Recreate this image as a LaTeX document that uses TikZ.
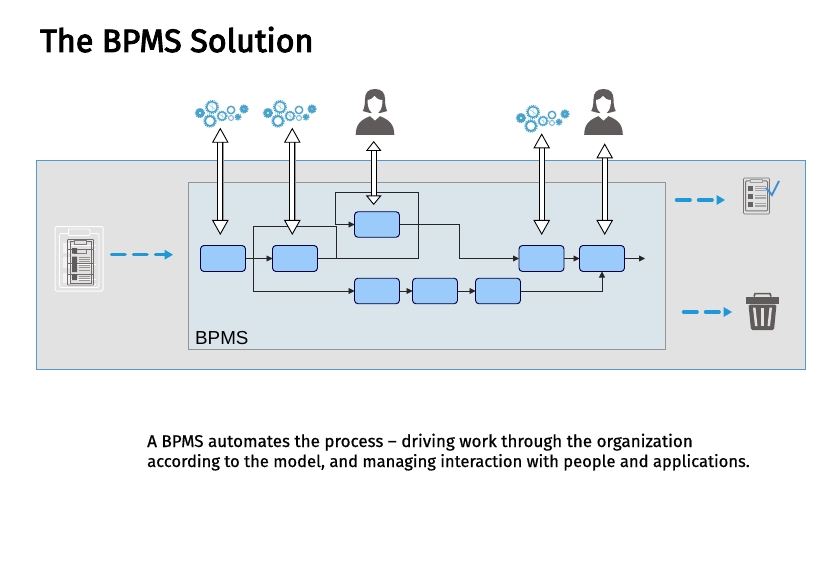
\documentclass[tikz,border=0pt]{standalone}
\usepackage{fontspec}
\setmainfont{Fira Sans}
\newfontfamily\arialf{Liberation Sans}
\newfontfamily\titlef[FakeBold=3]{Fira Sans}
\newfontfamily\bodyf[FakeBold=.6]{Fira Sans}
\usetikzlibrary{arrows.meta,calc}
\definecolor{panel}{HTML}{E2E2E2}
\definecolor{inner}{HTML}{DAE4EB}
\definecolor{task}{HTML}{9BCBFB}
\definecolor{flow}{HTML}{1E98D8}
\definecolor{gearc}{HTML}{4AA3CC}
\definecolor{icon}{HTML}{5F5B5B}
\definecolor{edge}{HTML}{4C9BD2}
\definecolor{tick}{HTML}{3D8FDC}
\tikzset{
  taskbox/.style={draw=black!75!blue,line width=.9pt,fill=task,rounded corners=3.5pt,minimum width=45pt,minimum height=26pt,inner sep=0pt,outer sep=0pt},
  conn/.style={draw=black!85,line width=.85pt,-{Triangle[length=6pt,width=6pt]}},
  plainconn/.style={draw=black!85,line width=.85pt},
  dasharrow/.style={draw=flow,line width=3.4pt,line cap=round,dash pattern=on 13.6pt off 8.4pt,-{Triangle[length=8.5pt,width=10pt,fill=flow,line width=0pt]}},
  dbl/.style={line width=1pt,draw=black,double=white,double distance=4.2pt,
    {Triangle[length=15pt,width=16.5pt,fill=white,line width=.9pt]}-{Triangle[length=15pt,width=16.5pt,fill=white,line width=.9pt]}},
  dblshadow/.style={line width=.8pt,draw=black!40,double=black!40,double distance=4.2pt},
}
\newcommand{\gearring}[4]{% x y r width
  \draw[gearc,line width=#4pt] (#1,#2) circle[radius=#3];
  \draw[gearc,line width=1.1pt,dash pattern=on 1pt off 1pt] (#1,#2) circle[radius=#3+#4/2+.3];
}
\newcommand{\gearcluster}[2]{%
  \begin{scope}[shift={(#1,#2)}]
    \gearring{0}{0}{2.8}{3.2}
    \gearring{12}{-6}{5.4}{1.5}
    \draw[gearc!60,line width=.5pt] (8,-9)--(16,-3) (12,-11)--(12,-1);
    \gearring{10}{8}{5}{1.8}
    \gearring{22}{3}{4.1}{1.3}
    \draw[gearc!60,line width=.5pt] (19,1)--(25,5) (22,-1)--(22,7);
    \draw[gearc,line width=1.4pt] (31,-3) circle[radius=3.7];
    \draw[gearc!70,line width=1.1pt] (31,5) circle[radius=2.5];
    \gearring{38}{4}{1.6}{2.2}
    \gearring{44}{-4}{2.3}{3}
  \end{scope}}
\newcommand{\person}[2]{%
  \begin{scope}[shift={(#1,#2)}]
    \fill[icon] (0,46) -- (-19.3,46) .. controls (-19.3,36) and (-15,31) .. (-4.5,27) -- (4.5,27) .. controls (15,31) and (19.3,36) .. (19.3,46) -- cycle;
    \fill[white] (-5.5,26.5) -- (0,31.5) -- (5.5,26.5) -- (5.5,24) -- (-5.5,24) -- cycle;
    \fill[icon] (0,0) .. controls (-7,0) and (-10,4) .. (-10,10) .. controls (-10,16) and (-11,20) .. (-12.3,22) .. controls (-9,23.5) and (-7,23) .. (-5,24) -- (5,24) .. controls (7,23) and (9,23.5) .. (12.3,22) .. controls (11,20) and (10,16) .. (10,10) .. controls (10,4) and (7,0) .. (0,0) -- cycle;
    \fill[white] (-7.5,11) .. controls (-4,10.5) and (-2,9) .. (-.5,7) .. controls (1,9.5) and (4,11) .. (7.5,11) .. controls (7.5,20) and (4,25) .. (0,25) .. controls (-4,25) and (-7.5,20) .. (-7.5,11) -- cycle;
  \end{scope}}
\newcommand{\checklist}[2]{%
  \begin{scope}[shift={(#1,#2)}]
    \draw[icon!85,line width=.6pt,rounded corners=1pt,fill=panel] (0,0) rectangle (26,36);
    \draw[icon!85,line width=1pt,rounded corners=1pt] (2,3) rectangle (24,33);
    \draw[icon!60,line width=.6pt,fill=panel] (7,1) rectangle (19,4.5);
    \foreach \yy in {8,16.5,24.5}{
      \fill[icon!95] (4,\yy) rectangle (9.5,\yy+5);
      \draw[icon!55,line width=.8pt] (11.5,\yy+.7) -- (22,\yy+.7) (11.5,\yy+2.5) -- (22,\yy+2.5) (11.5,\yy+4.3) -- (22,\yy+4.3);
    }
  \end{scope}}
\begin{document}
\begin{tikzpicture}[x=1pt,y=-1pt]
\useasboundingbox (0,0) rectangle (836,575);
% panels
\node[draw=edge,line width=.8pt,fill=panel,minimum width=769pt,minimum height=209pt,inner sep=0pt,anchor=north west] (panel) at (36,160) {};
\node[draw=black!42,line width=1pt,fill=inner,minimum width=477pt,minimum height=166.5pt,inner sep=0pt,anchor=north west] (bpms) at (188,182.5) {};
\node[anchor=base west,inner sep=0pt,font=\arialf\fontsize{18.8}{20}\selectfont] (bpmslabel) at (195,344) {BPMS};
% title and text
\node[anchor=base west,inner sep=0pt,font=\titlef\fontsize{32.3}{36}\selectfont] (title) at (40,52) {The BPMS Solution};
\node[anchor=base west,inner sep=0pt,font=\bodyf\fontsize{17.03}{20}\selectfont] (line1) at (147,447) {A BPMS automates the process – driving work through the organization};
\node[anchor=base west,inner sep=0pt,font=\bodyf\fontsize{16.58}{20}\selectfont] (line2) at (147,467) {according to the model, and managing interaction with people and applications.};
% tasks
\node[taskbox] (A) at (223,258.5) {};
\node[taskbox] (B) at (295,258.5) {};
\node[taskbox,minimum height=25.5pt] (C) at (377,224.5) {};
\node[taskbox,minimum height=25.5pt] (D) at (377,291) {};
\node[taskbox,minimum height=25.5pt] (E) at (435,291) {};
\node[taskbox,minimum height=25.5pt] (F) at (498,291) {};
\node[taskbox] (G) at (541.5,258.5) {};
\node[taskbox] (H) at (602,258.5) {};
\coordinate (out) at (645,258.5);
\coordinate (j1) at (253,258.5);
\coordinate (j2) at (336,258.5);
% connectors
\draw[conn] (A) -- (B);
\draw[plainconn] (j2) |- (253,226.7) -- (j1);
\draw[conn] (j1) |- (D);
\draw[conn] (B.east) -- (418,258.5) -- (418,192.7) -- (335,192.7) |- (C.west);
\draw[conn] (C.east) -- (459,224.5) |- (G.west);
\draw[conn] (D) -- (E);
\draw[conn] (E) -- (F);
\draw[conn] (F.east) -| (H.south);
\draw[conn] (G) -- (H);
\draw[conn] (H) -- (out);
% icons
\gearcluster{200}{113}
\gearcluster{268}{113}
\gearcluster{521}{118}
\person{375}{89}
\person{603.5}{89}
% double arrows
\coordinate (a1t) at (220.3,127.7); \coordinate (a1b) at (220.3,235);
\coordinate (a2t) at (292.3,127.7); \coordinate (a2b) at (292.3,235);
\coordinate (a3t) at (373.7,141);   \coordinate (a3b) at (373.7,205);
\coordinate (a4t) at (541.7,133.3); \coordinate (a4b) at (541.7,235);
\coordinate (a5t) at (604.7,143.3); \coordinate (a5b) at (604.7,235);
\foreach \p/\q in {a1t/a1b,a2t/a2b,a3t/a3b,a4t/a4b,a5t/a5b}{
  \draw[dblshadow] ($(\p)+(.6,12)$) -- ($(\q)+(.6,-12)$);
}
\foreach \p/\q in {a1t/a1b,a2t/a2b,a4t/a4b,a5t/a5b}{
  \draw[dbl] (\p) -- (\q);
}
\draw[dbl,{Triangle[length=10pt,width=15.5pt,fill=white,line width=.9pt]}-{Triangle[length=9.5pt,width=15.5pt,fill=white,line width=.9pt]}] (a3t) -- (a3b);
% left icon
\draw[white,line width=1pt,rounded corners=2pt] (55,226.5) rectangle (103,291);
\draw[white,line width=.8pt,rounded corners=2pt] (59.5,233.5) rectangle (99,287.5);
\draw[white,line width=.8pt,rounded corners=1pt,fill=panel] (68.5,229) rectangle (90,235.5);
\fill[white,opacity=.6] (63,243) rectangle (70,253) (63,257) rectangle (70,268) (63,273) rectangle (70,283);
\draw[white,line width=.7pt] (70,245)--(96,245) (70,249)--(96,249) (70,264)--(96,264) (70,279)--(96,279) (70,284)--(96,284);
\draw[icon!90,line width=.7pt,rounded corners=.5pt] (67.5,239.5) rectangle (93.5,285);
\draw[icon!90,line width=.7pt] (70,241) -- (70,283.5) -- (91,283.5) -- (91,241) -- cycle;
\draw[icon!80,line width=.6pt,fill=panel] (74.5,240.5) rectangle (86.5,244.5);
\draw[icon!80,line width=.6pt,fill=panel] (74.5,249.5) rectangle (86.5,253.5);
\draw[icon!90,line width=.7pt] (67.5,249.5) -- (93.5,249.5) (67.5,274) -- (93.5,274) (67.5,263.5) -- (93.5,263.5);
\fill[icon] (72,248) rectangle (77,253.5) (72,256.5) rectangle (77,272) (72,274) rectangle (77,280);
\foreach \yy in {257.5,259.5,261.5,265.5,267.5,270,276,278,280}{
  \draw[icon!65,line width=.9pt] (79,\yy) -- (90,\yy);
}
\checklist{743.5}{178}
\draw[tick,line width=2pt] (766,188) -- (772,195) -- (779,181);
% trash
\fill[icon] (746,297) rectangle (779,303.5);
\draw[icon,line width=1.6pt] (754,296.5) -- (755,293.6) -- (770,293.6) -- (771,296.5);
\fill[icon,rounded corners=1.5pt] (748.5,304.5) -- (776.5,304.5) -- (774,330) -- (751,330) -- cycle;
\fill[panel] (753,307.5) -- (755.5,307.5) -- (757.5,326) -- (755,326) -- cycle;
\fill[panel] (761.2,307.5) -- (763.8,307.5) -- (763.8,326) -- (761.2,326) -- cycle;
\fill[panel] (769.5,307.5) -- (772,307.5) -- (770,326) -- (767.5,326) -- cycle;
% flow arrows
\coordinate (f1a) at (111.5,254.7); \coordinate (f1b) at (173,254.7);
\coordinate (f2a) at (676.5,200);   \coordinate (f2b) at (725,200);
\coordinate (f3a) at (683.5,312);   \coordinate (f3b) at (732,312);
\draw[dasharrow] (f1a) -- (f1b);
\draw[dasharrow] (f2a) -- (f2b);
\draw[dasharrow] (f3a) -- (f3b);
\end{tikzpicture}
\end{document}
